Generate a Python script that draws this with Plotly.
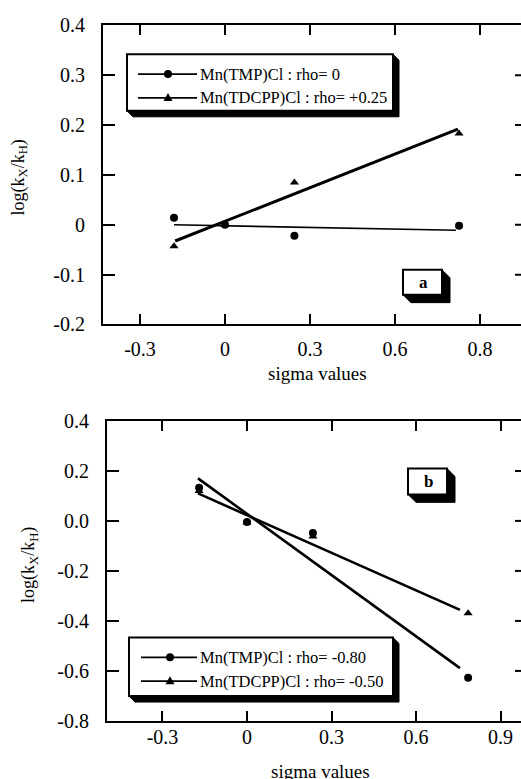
import plotly.graph_objects as go

W, H = 521, 779
FONT = "Liberation Serif, Times New Roman, Times, serif"

# ---------------- data ----------------
# panel a
sigma_a = [-0.18, 0.0, 0.245, 0.826]
tmp_a = [0.014, 0.0, -0.022, -0.002]
tdcpp_a = [-0.043, 0.0, 0.085, 0.183]
fit_x_a = [-0.18, 0.815]
fit_tmp_a = [0.0, -0.011]
fit_x_a2 = [-0.176, 0.822]
fit_tdcpp_a = [-0.0325, 0.192]
xtickvals_a = [-0.3, 0.0, 0.3, 0.6, 0.9]
xticktext_a = ["-0.3", "0", "0.3", "0.6", "0.8"]
ytickvals_a = [0.4, 0.3, 0.2, 0.1, 0.0, -0.1, -0.2]
yticktext_a = ["0.4", "0.3", "0.2", "0.1", "0", "-0.1", "-0.2"]
legend_a = ["Mn(TMP)Cl : rho= 0", "Mn(TDCPP)Cl : rho= +0.25"]

# panel b
sigma_b = [-0.17, 0.0, 0.234, 0.785]
tmp_b = [0.133, -0.004, -0.048, -0.627]
tdcpp_b = [0.12, -0.006, -0.062, -0.369]
fit_x_b = [-0.174, 0.756]
fit_tmp_b = [0.170, -0.589]
fit_tdcpp_b = [0.11, -0.356]
xtickvals_b = [-0.3, 0.0, 0.3, 0.6, 0.9]
xticktext_b = ["-0.3", "0", "0.3", "0.6", "0.9"]
ytickvals_b = [0.4, 0.2, 0.0, -0.2, -0.4, -0.6, -0.8]
yticktext_b = ["0.4", "0.2", "0.0", "-0.2", "-0.4", "-0.6", "-0.8"]
legend_b = ["Mn(TMP)Cl : rho= -0.80", "Mn(TDCPP)Cl : rho= -0.50"]

# screen -> paper mapping (the photographed page is drawn slightly squeezed vertically)
VS, VOFF = 0.978, 8.5


def px(x):
    return x / W


def py(y):
    return 1 - ((y - VOFF) / VS) / H


fig = go.Figure()

# panel a traces
fig.add_trace(go.Scatter(x=fit_x_a, y=fit_tmp_a, mode="lines", line=dict(color="black", width=1.6),
                         xaxis="x", yaxis="y", showlegend=False, hoverinfo="skip"))
fig.add_trace(go.Scatter(x=fit_x_a2, y=fit_tdcpp_a, mode="lines", line=dict(color="black", width=3),
                         xaxis="x", yaxis="y", showlegend=False, hoverinfo="skip"))
fig.add_trace(go.Scatter(x=sigma_a, y=tmp_a, mode="markers", name=legend_a[0],
                         marker=dict(symbol="circle", size=8, color="black"),
                         xaxis="x", yaxis="y", showlegend=False))
fig.add_trace(go.Scatter(x=sigma_a, y=tdcpp_a, mode="markers", name=legend_a[1],
                         marker=dict(symbol="triangle-up", size=8, color="black"),
                         xaxis="x", yaxis="y", showlegend=False))

# panel b traces
fig.add_trace(go.Scatter(x=fit_x_b, y=fit_tmp_b, mode="lines", line=dict(color="black", width=2.6),
                         xaxis="x2", yaxis="y2", showlegend=False, hoverinfo="skip"))
fig.add_trace(go.Scatter(x=fit_x_b, y=fit_tdcpp_b, mode="lines", line=dict(color="black", width=2.6),
                         xaxis="x2", yaxis="y2", showlegend=False, hoverinfo="skip"))
fig.add_trace(go.Scatter(x=sigma_b, y=tmp_b, mode="markers", name=legend_b[0],
                         marker=dict(symbol="circle", size=8, color="black"),
                         xaxis="x2", yaxis="y2", showlegend=False))
fig.add_trace(go.Scatter(x=sigma_b, y=tdcpp_b, mode="markers", name=legend_b[1],
                         marker=dict(symbol="triangle-up", size=8, color="black"),
                         xaxis="x2", yaxis="y2", showlegend=False))

axis_common = dict(showgrid=False, zeroline=False, showline=True, linecolor="black", linewidth=2,
                   ticks="inside", tickcolor="black", tickwidth=2,
                   tickfont=dict(family=FONT, size=20, color="black"))

fig.update_layout(
    width=W, height=H,
    margin=dict(l=0, r=0, t=0, b=0),
    paper_bgcolor="white", plot_bgcolor="white",
    showlegend=False,
    font=dict(family=FONT, color="black"),
    xaxis=dict(**axis_common, domain=[103 / W, 1], range=[-0.4306, 1.0447], mirror="ticks",
               tickmode="array", tickvals=xtickvals_a, ticktext=xticktext_a, ticklen=10,
               ticklabelstandoff=6, anchor="y"),
    yaxis=dict(**axis_common, domain=[py(324), py(23)], range=[-0.2, 0.4], mirror=False,
               tickmode="array", tickvals=ytickvals_a, ticktext=yticktext_a, ticklen=12,
               ticklabelstandoff=12, anchor="x"),
    xaxis2=dict(**axis_common, domain=[107 / W, 1], range=[-0.497, 0.9727], mirror="ticks",
                tickmode="array", tickvals=xtickvals_b, ticktext=xticktext_b, ticklen=10,
                ticklabelstandoff=-3, anchor="y2"),
    yaxis2=dict(**axis_common, domain=[py(723), py(421)], range=[-0.8, 0.4], mirror=False,
                tickmode="array", tickvals=ytickvals_b, ticktext=yticktext_b, ticklen=12,
                ticklabelstandoff=12, anchor="x2"),
)

shapes = []
annotations = []

# right-side inward ticks (right spine lies just outside the picture)
for yref, vals in (("y", ytickvals_a), ("y2", ytickvals_b)):
    for v in vals[1:-1]:
        shapes.append(dict(type="line", xref="paper", yref=yref, x0=px(515), x1=1, y0=v, y1=v,
                           line=dict(color="black", width=2)))


def shadow_box(x0, y0, x1, y1, d, lw=2):
    path = (f"M {px(x1)} {py(y0)} L {px(x1 + d)} {py(y0 + d)} L {px(x1 + d)} {py(y1 + d)} "
            f"L {px(x0 + d)} {py(y1 + d)} L {px(x0)} {py(y1)} L {px(x1)} {py(y1)} Z")
    shapes.append(dict(type="path", xref="paper", yref="paper", path=path,
                       fillcolor="black", line=dict(color="black", width=1)))
    shapes.append(dict(type="rect", xref="paper", yref="paper", x0=px(x0), x1=px(x1),
                       y0=py(y1), y1=py(y0), fillcolor="white", line=dict(color="black", width=lw)))


def text(x, y, s, size, xanchor="center", yanchor="middle", angle=0):
    annotations.append(dict(xref="paper", yref="paper", x=px(x), y=py(y), text=s, textangle=angle,
                            showarrow=False, xanchor=xanchor, yanchor=yanchor,
                            font=dict(family=FONT, size=size, color="black")))


def legend(x0, y0, x1, y1, rows, lx0, lx1, mx, tx, labels):
    shadow_box(x0, y0, x1, y1, 6)
    for i, (ry, lab) in enumerate(zip(rows, labels)):
        shapes.append(dict(type="line", xref="paper", yref="paper", x0=px(lx0), x1=px(lx1),
                           y0=py(ry), y1=py(ry), line=dict(color="black", width=1.8)))
        if i == 0:
            shapes.append(dict(type="circle", xref="paper", yref="paper", x0=px(mx - 4), x1=px(mx + 4),
                               y0=py(ry + 4), y1=py(ry - 4), fillcolor="black", line=dict(width=0)))
        else:
            path = f"M {px(mx - 4.5)} {py(ry + 3)} L {px(mx + 4.5)} {py(ry + 3)} L {px(mx)} {py(ry - 5)} Z"
            shapes.append(dict(type="path", xref="paper", yref="paper", path=path,
                               fillcolor="black", line=dict(width=0)))
        text(tx, ry, lab, 16.5, xanchor="left")


legend(127, 52, 393, 109, [72, 96], 138, 197, 168, 198, legend_a)
legend(129, 639, 393, 698, [659, 683], 141, 197, 170, 198, legend_b)

# panel labels
shadow_box(403, 269, 442, 294, 8)
text(423, 282, "<b>a</b>", 17)
shadow_box(408, 469, 447, 495, 8)
text(428, 482, "<b>b</b>", 17)

# axis titles
ytitle = "log(k<sub>X</sub>/k<sub>H</sub>)"
text(19, 176, ytitle, 18, angle=-90)
text(30, 566, ytitle, 18, angle=-90)
text(317, 373, "sigma values", 19)
text(320, 761, "sigma values", 19, yanchor="top")

fig.update_layout(shapes=shapes, annotations=annotations)
post = ("document.documentElement.style.margin='0';document.body.style.margin='0';"
        "document.body.style.overflow='hidden';")
fig.write_html("out.html", config={"displayModeBar": False}, post_script=post)
